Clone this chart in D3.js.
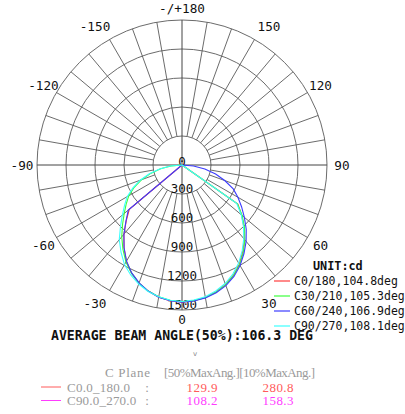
<!DOCTYPE html>
<html><head><meta charset="utf-8">
<script src="https://cdn.jsdelivr.net/npm/d3@7/dist/d3.min.js"></script>
<style>body{margin:0;background:#fff}svg{display:block}</style>
</head><body>
<svg id="c" width="405" height="414"></svg>
<script>
// ---------- data ----------
const angles = [-90,-85,-80,-75,-70,-65,-60,-55,-50,-45,-40,-35,-30,-25,-20,-15,-10,-5,0,5,10,15,20,25,30,35,40,45,50,55,60,65,70,75,80,85,90];
const seriesNames = ["C0/180,104.8deg","C30/210,105.3deg","C60/240,106.9deg","C90/270,108.1deg"];
const seriesColors = ["#ff3c3c","#3cff3c","#3c3cff","#3cffff"];
const c0_180  = [0,0,0,0,0,0,0,0,712,815,935,1045,1150,1235,1300,1350,1390,1410,1420,1410,1392,1358,1315,1258,1185,1095,1005,905,805,705,0,0,0,0,0,0,0];
const c30_210 = [0,115,225,335,445,545,635,705,780,870,970,1065,1160,1235,1300,1350,1385,1405,1415,1408,1392,1362,1320,1262,1192,1105,1012,915,812,700,0,0,0,0,0,0,0];
const c60_240 = [0,0,0,0,0,0,0,0,725,820,935,1045,1148,1232,1298,1350,1390,1410,1420,1412,1396,1368,1328,1272,1202,1118,1032,940,842,752,668,585,470,360,240,120,0];
const c90_270 = [0,120,235,350,460,560,655,725,805,900,1010,1100,1190,1255,1310,1355,1385,1405,1412,1402,1383,1350,1305,1245,1172,1085,995,900,800,690,0,0,0,0,0,0,0];
const seriesValues = [c0_180, c30_210, c60_240, c90_270];

const ringTicks = [0,300,600,900,1200,1500];
const angleTicks = [0,30,60,90,120,150,180,-150,-120,-90,-60,-30];
const angleTickLabels = ["0","30","60","90","120","150","-/+180","-150","-120","-90","-60","-30"];
const spokeAngles = [-170,-160,-150,-140,-130,-120,-110,-100,-80,-70,-60,-50,-40,-30,-20,-10,10,20,30,40,50,60,70,80,100,110,120,130,140,150,160,170];

const unitLabel = "UNIT:cd";
const beamTitle = "AVERAGE BEAM ANGLE(50%):106.3 DEG";
const tableHeader = ["C Plane", "[50%MaxAng.][10%MaxAng.]"];
const tableRows = ["C0.0_180.0", "C90.0_270.0"];
const tableColors = ["#ff5a5a", "#ff3cff"];
const max50 = ["129.9", "108.2"];
const max10 = ["280.8", "158.3"];

// ---------- drawing ----------
const svg = d3.select("#c");
const cx = 182, cy = 165, R = 145;
const r = d3.scaleLinear().domain([0, 1500]).range([0, R]);
const toRad = d3.scaleLinear().domain([0, 180]).range([0, Math.PI]);
// chart angle: 0 at bottom, +90 right. d3 radial angle = PI - theta
const d3ang = a => Math.PI - toRad(a);
const px = (a, rad) => cx + rad * Math.sin(toRad(a));
const py = (a, rad) => cy + rad * Math.cos(toRad(a));

const g = svg.append("g");
const gridColor = "#5a5a5a";

// rings
g.selectAll("circle.ring").data(ringTicks.slice(1)).enter().append("circle")
  .attr("cx", cx).attr("cy", cy).attr("r", d => r(d))
  .attr("fill", "none").attr("stroke", gridColor).attr("stroke-width", 0.9);

// spokes (from first ring outward)
g.selectAll("line.spoke").data(spokeAngles).enter().append("line")
  .attr("x1", d => px(d, r(300))).attr("y1", d => py(d, r(300)))
  .attr("x2", d => px(d, R)).attr("y2", d => py(d, R))
  .attr("stroke", gridColor).attr("stroke-width", 0.9);

// main axes through center
[[0, 180], [90, -90]].forEach(([a, b]) => {
  g.append("line")
    .attr("x1", px(a, R)).attr("y1", py(a, R))
    .attr("x2", px(b, R)).attr("y2", py(b, R))
    .attr("stroke", "#444").attr("stroke-width", 1);
});

const mono = "'DejaVu Sans Mono', monospace";

// ring labels
g.selectAll("text.ring").data(ringTicks).enter().append("text")
  .attr("x", cx).attr("y", d => cy + r(d) - (d === 0 ? -0.5 : 1.5))
  .attr("text-anchor", "middle")
  .attr("font-family", mono).attr("font-size", 12.5).attr("fill", "#111")
  .text(d => d);

// angle labels
g.selectAll("text.ang").data(angleTicks).enter().append("text")
  .attr("x", d => {
    const s = Math.sin(toRad(d));
    const extra = (Math.abs(d) === 30 || Math.abs(d) === 150) ? 7 * Math.sign(s) : 0;
    return px(d, 160) + extra;
  })
  .attr("y", d => py(d, d === 180 ? 157 : (d === 0 ? 154 : 160)) + 4.5)
  .attr("text-anchor", "middle")
  .attr("font-family", mono).attr("font-size", 12.7).attr("fill", "#111")
  .text((d, i) => angleTickLabels[i]);

// curves
const line = d3.lineRadial()
  .angle((d, i) => d3ang(angles[i]))
  .radius(d => r(d))
  .curve(d3.curveLinear);

seriesValues.forEach((vals, k) => {
  g.append("path")
    .attr("transform", `translate(${cx},${cy})`)
    .attr("d", line(vals))
    .attr("fill", "none")
    .attr("stroke", seriesColors[k])
    .attr("stroke-width", 1.1);
});

// legend
svg.append("text").attr("x", 313).attr("y", 269.5)
  .attr("font-family", mono).attr("font-size", 11.8).attr("font-weight", "bold").attr("fill", "#111")
  .text(unitLabel);
seriesNames.forEach((n, k) => {
  const y = 281 + k * 15;
  svg.append("line").attr("x1", 274).attr("x2", 290).attr("y1", y).attr("y2", y)
    .attr("stroke", seriesColors[k]).attr("stroke-width", 1.2);
  svg.append("text").attr("x", 294).attr("y", y + 4)
    .attr("font-family", mono).attr("font-size", 11.5).attr("fill", "#111")
    .text(n);
});

// average beam angle title
svg.append("text").attr("x", 182).attr("y", 339.5)
  .attr("text-anchor", "middle")
  .attr("font-family", mono).attr("font-size", 13.2).attr("font-weight", "bold").attr("fill", "#111")
  .text(beamTitle);

// small mark
svg.append("text").attr("x", 195).attr("y", 356)
  .attr("text-anchor", "middle")
  .attr("font-family", "'DejaVu Sans', sans-serif").attr("font-size", 7).attr("fill", "#888")
  .text("v");

// table
const serif = "'Liberation Serif', 'DejaVu Serif', serif";
const gray = "#9a9a9a";
svg.append("text").attr("x", 105).attr("y", 377)
  .attr("font-family", serif).attr("font-size", 13).attr("fill", gray)
  .attr("textLength", 45).attr("lengthAdjust", "spacing")
  .text(tableHeader[0]);
svg.append("text").attr("x", 164).attr("y", 377)
  .attr("font-family", serif).attr("font-size", 13).attr("fill", gray)
  .attr("textLength", 151).attr("lengthAdjust", "spacing")
  .text(tableHeader[1]);

tableRows.forEach((name, k) => {
  const y = 387 + k * 13.5;
  svg.append("line").attr("x1", 41).attr("x2", 61).attr("y1", y).attr("y2", y)
    .attr("stroke", tableColors[k]).attr("stroke-width", 1);
  svg.append("text").attr("x", 67).attr("y", y + 4.5)
    .attr("font-family", serif).attr("font-size", 13).attr("fill", gray)
    .attr("textLength", name.length * 6.3).attr("lengthAdjust", "spacing")
    .text(name);
  svg.append("text").attr("x", 147).attr("y", y + 4.5)
    .attr("text-anchor", "middle")
    .attr("font-family", serif).attr("font-size", 13).attr("fill", gray)
    .text(":");
  svg.append("text").attr("x", 202).attr("y", y + 4.5)
    .attr("text-anchor", "middle")
    .attr("font-family", serif).attr("font-size", 13).attr("fill", tableColors[k])
    .attr("textLength", 31).attr("lengthAdjust", "spacing")
    .text(max50[k]);
  svg.append("text").attr("x", 278).attr("y", y + 4.5)
    .attr("text-anchor", "middle")
    .attr("font-family", serif).attr("font-size", 13).attr("fill", tableColors[k])
    .attr("textLength", 31).attr("lengthAdjust", "spacing")
    .text(max10[k]);
});
</script>
</body></html>
